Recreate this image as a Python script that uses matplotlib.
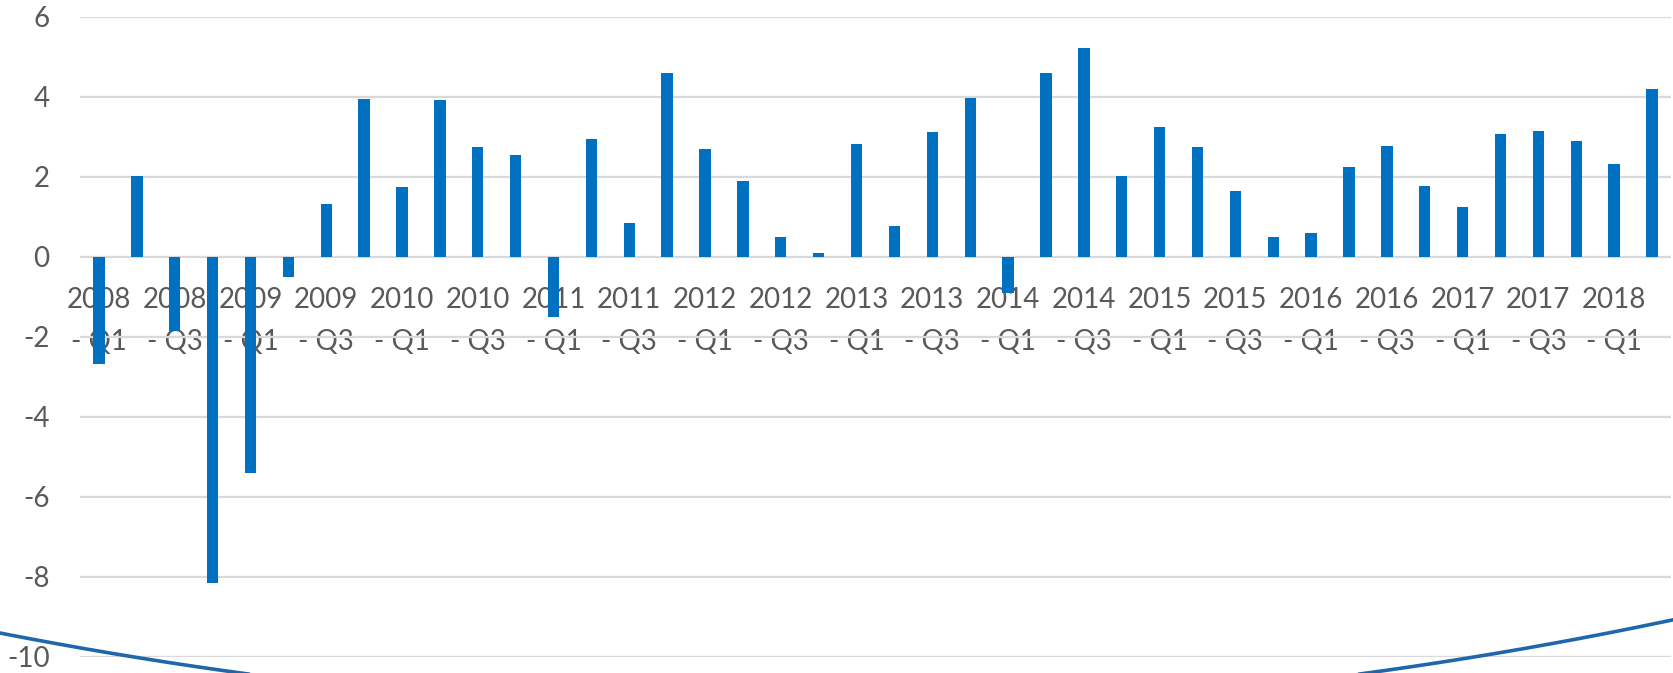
import matplotlib
matplotlib.use("Agg")
import matplotlib.pyplot as plt
import numpy as np
from matplotlib.lines import Line2D

# ---- data ----
years = [str(y) for y in range(2008, 2019)]
quarters = ["Q1", "Q2", "Q3", "Q4"]
categories = [f"{y} - {q}" for y in years for q in quarters][:42]
values = [-2.68, 2.01, -1.86, -8.16, -5.41, -0.52, 1.31, 3.93, 1.73, 3.92,
          2.73, 2.55, -1.52, 2.95, 0.85, 4.58, 2.68, 1.88, 0.48, 0.09,
          2.82, 0.77, 3.12, 3.96, -0.90, 4.60, 5.21, 2.02, 3.24, 2.74,
          1.63, 0.49, 0.58, 2.23, 2.77, 1.76, 1.24, 3.06, 3.15, 2.89,
          2.32, 4.20]
tick_labels = [c.replace(" - ", "\n- ") for c in categories]
y_ticks = [-10, -8, -6, -4, -2, 0, 2, 4, 6]

W, H = 1674, 673
plt.rcParams['font.family'] = ['Lato', 'DejaVu Sans']
fig = plt.figure(figsize=(W / 100, H / 100), dpi=100)
ax = fig.add_axes([80 / W, 1 - 656.5 / H, (1671 - 80) / W, (656.5 - 16.5) / H])

x = np.arange(len(values))
ax.bar(x, values, width=0.30, color="#0070C0", zorder=3)

ax.set_xlim(-0.5, len(values) - 0.5)
ax.set_ylim(-10, 6)
ax.set_yticks(y_ticks)
ax.set_yticklabels([str(t) for t in y_ticks])
ax.grid(axis="y", color="#D9D9D9", linewidth=1.6, zorder=0)
ax.set_axisbelow(True)
for s in ax.spines.values():
    s.set_visible(False)
ax.spines['bottom'].set_position(('data', 0))

ax.set_xticks(x[::2])
ax.set_xticklabels(tick_labels[::2], linespacing=1.75, multialignment="center")
ax.tick_params(axis="x", length=0, pad=22, labelsize=20, labelcolor="#595959")
ax.tick_params(axis="y", length=0, pad=22, labelsize=20, labelcolor="#595959")
for lbl in ax.get_xticklabels():
    lbl.set_zorder(5)

# decorative arc at the bottom of the slide
px = np.linspace(0, W, 300)
py = 711.5 - 1.214e-4 * (px - 804) ** 2
fig.add_artist(Line2D(px / W, 1 - py / H, transform=fig.transFigure,
                      color="#1F66AA", linewidth=2.6, zorder=10))

fig.savefig("out.png", dpi=100)
